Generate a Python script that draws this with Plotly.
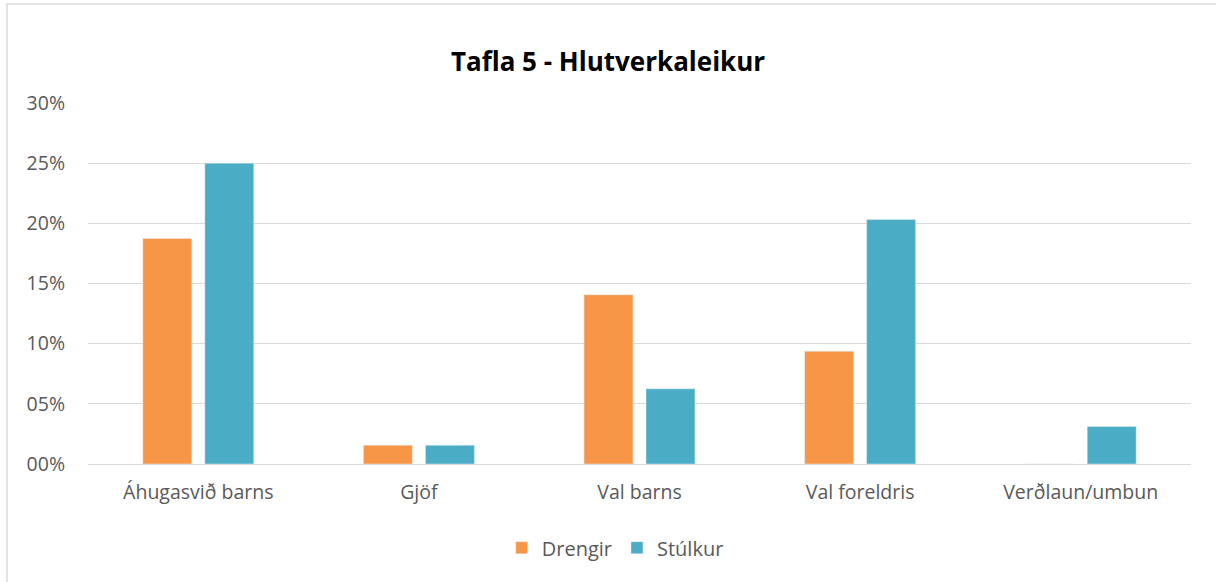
import plotly.graph_objects as go

categories = ["Áhugasvið barns", "Gjöf", "Val barns", "Val foreldris", "Verðlaun/umbun"]
drengir = [0.1875, 0.015625, 0.140625, 0.09375, 0.0]
stulkur = [0.25, 0.015625, 0.0625, 0.203125, 0.03125]
tick_vals = [0, 0.05, 0.10, 0.15, 0.20, 0.25, 0.30]
tick_text = ["00%", "05%", "10%", "15%", "20%", "25%", "30%"]

font_family = "Open Sans, Lato, sans-serif"
grey = "#595959"

fig = go.Figure()
fig.add_trace(go.Bar(name="Drengir", x=categories, y=drengir, marker_color="#F79646"))
fig.add_trace(go.Bar(name="Stúlkur", x=categories, y=stulkur, marker_color="#4BACC6"))

fig.update_layout(
    width=1216, height=582,
    margin=dict(l=88, r=25, t=103, b=118),
    paper_bgcolor="white", plot_bgcolor="white",
    barmode="group", bargap=0.438, bargroupgap=0.21,
    title=dict(text="<b>Tafla 5 - Hlutverkaleikur</b>", x=0.5, xanchor="center",
               y=1 - 62/582, yanchor="middle",
               font=dict(family=font_family, size=26, color="black")),
    font=dict(family=font_family, size=18, color=grey),
    showlegend=True,
    legend=dict(orientation="h", x=0.478, xanchor="center", y=-0.232, yanchor="middle",
                font=dict(size=20, color=grey), traceorder="normal"),
    xaxis=dict(showgrid=False, showline=False, ticks="", ticklabelstandoff=14,
               tickfont=dict(size=19.5, color=grey)),
    yaxis=dict(range=[0, 0.30], tickvals=tick_vals, ticktext=tick_text,
               showgrid=True, gridcolor="#d9d9d9", gridwidth=1,
               zeroline=True, zerolinecolor="#d9d9d9", zerolinewidth=1,
               showline=False, ticks="", ticklabelstandoff=22,
               tickfont=dict(size=19.5, color=grey)),
    shapes=[dict(type="rect", xref="paper", yref="paper",
                 x0=(7-88)/1103, x1=1.3, y0=-0.5, y1=(464-4)/361,
                 line=dict(color="#d9d9d9", width=1.5), fillcolor="rgba(0,0,0,0)", layer="below")],
)

fig.write_html("out.html", config={"displayModeBar": False},
               post_script="document.body.style.margin='0';")
